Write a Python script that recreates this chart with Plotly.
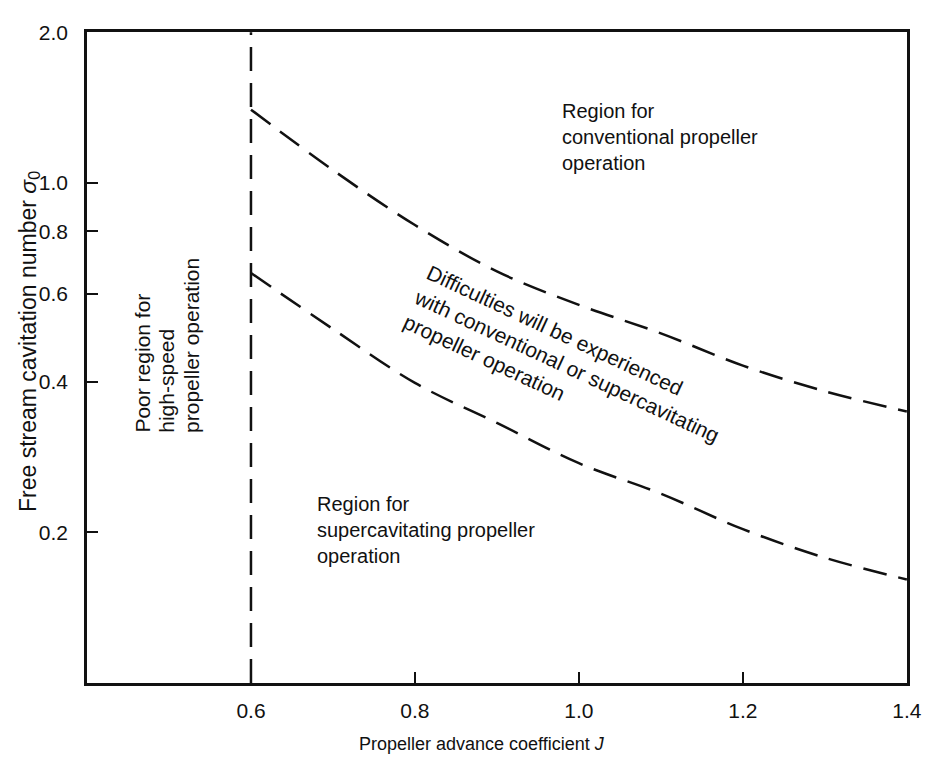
import math
import plotly.graph_objects as go

# ---- data ----
J_grid = [0.6, 0.7, 0.8, 0.9, 1.0, 1.1, 1.2, 1.3, 1.4]
sigma_upper = [1.40, 1.06, 0.823, 0.665, 0.570, 0.500, 0.431, 0.383, 0.349]
sigma_lower = [0.660, 0.510, 0.398, 0.331, 0.275, 0.239, 0.203, 0.178, 0.161]
J_limit = [0.6, 0.6]
sigma_limit = [0.1, 2.0]

x_ticks = [0.6, 0.8, 1.0, 1.2, 1.4]
x_tick_labels = ["0.6", "0.8", "1.0", "1.2", "1.4"]
y_ticks = [0.2, 0.4, 0.6, 0.8, 1.0, 2.0]
y_tick_labels = ["0.2", "0.4", "0.6", "0.8", "1.0", "2.0"]

FONT = "Liberation Sans, Arial, Helvetica, sans-serif"
INK = "#111111"

# The page body has an 8px margin, so the figure is drawn 8px in from the
# window corner; the figure is sized to fill the rest of the 934x761 window.
OFF = 8
W, H = 934 - OFF, 761 - OFF
# plot area in window pixels
X0, X1, Y0, Y1 = 87, 918, 22, 683
L, T = X0 - OFF, Y0 - OFF
R, B = W - (X1 - OFF), H - (Y1 - OFF)


def px(xp):
    return (xp - X0) / (X1 - X0)


def py(yp):
    return (Y1 - yp) / (Y1 - Y0)


dash = "24px,12px"
fig = go.Figure()
fig.add_trace(go.Scatter(x=J_limit, y=sigma_limit, mode="lines",
                         line=dict(color=INK, width=2.5, dash=dash),
                         hoverinfo="skip", showlegend=False))
fig.add_trace(go.Scatter(x=J_grid, y=sigma_upper, mode="lines",
                         line=dict(color=INK, width=2.5, dash=dash, shape="spline"),
                         showlegend=False))
fig.add_trace(go.Scatter(x=J_grid, y=sigma_lower, mode="lines",
                         line=dict(color=INK, width=2.5, dash=dash, shape="spline"),
                         showlegend=False))

note_font = dict(family=FONT, size=20, color=INK)
vert_font = dict(family=FONT, size=21, color=INK)
poor_lines = ["Poor region for", "high-speed", "propeller operation"]
poor_x = [143, 168, 193]

annotations = [
    dict(text="Region for<br>conventional propeller<br>operation",
         x=px(566), y=py(89), xanchor="left", yanchor="top", align="left"),
    dict(text="Difficulties will be experienced<br>with conventional or supercavitating<br>propeller operation",
         x=px(573), y=py(361), xanchor="center", yanchor="middle", align="left",
         textangle=25, font=dict(family=FONT, size=21, color=INK)),
    dict(text="Region for<br>supercavitating propeller<br>operation",
         x=px(318), y=py(488), xanchor="left", yanchor="top", align="left"),
    dict(text="Free stream cavitation number <i>σ</i><sub>0</sub>",
         x=px(28), y=py(336), xanchor="center", yanchor="middle",
         textangle=-90, font=dict(family=FONT, size=23, color=INK)),
    dict(text="Propeller advance coefficient <i>J</i>",
         x=px(487), y=py(745), xanchor="center", yanchor="middle",
         font=dict(family=FONT, size=18, color=INK)),
]
for line, xp in zip(poor_lines, poor_x):
    annotations.append(dict(text=line, x=px(xp), y=py(431),
                            xanchor="center", yanchor="bottom",
                            textangle=-90, font=vert_font))
for a in annotations:
    a.setdefault("font", note_font)
    a.update(xref="paper", yref="paper", showarrow=False)

tickfont = dict(family=FONT, size=21, color=INK)
fig.update_layout(
    width=W, height=H,
    margin=dict(l=L, r=R, t=T, b=B, pad=0),
    paper_bgcolor="white", plot_bgcolor="white",
    font=dict(family=FONT, size=20, color=INK),
    annotations=annotations,
    xaxis=dict(range=[0.4, 1.4002], tickvals=x_ticks, ticktext=x_tick_labels,
               ticks="inside", ticklen=11, tickwidth=2, tickcolor=INK,
               showline=True, linewidth=2.6, linecolor=INK, mirror=True,
               showgrid=False, zeroline=False, ticklabelstandoff=7,
               tickfont=tickfont),
    yaxis=dict(type="log", range=[-1.0, math.log10(2.0) + 0.0003],
               tickvals=y_ticks, ticktext=y_tick_labels,
               ticks="inside", ticklen=11, tickwidth=2, tickcolor=INK,
               showline=True, linewidth=2.6, linecolor=INK, mirror=True,
               showgrid=False, zeroline=False, ticklabelstandoff=12,
               tickfont=tickfont),
)

fig.write_html("out.html")
